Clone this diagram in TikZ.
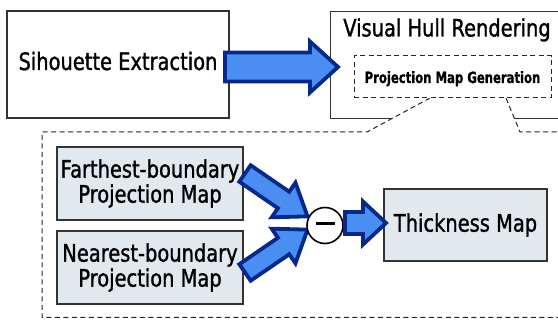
\documentclass[tikz,border=0pt]{standalone}
\usepackage{fontspec}
\setmainfont{DejaVu Sans}[FakeStretch=0.81, FakeBold=1.2,
  BoldFeatures={FakeStretch=0.75, FakeBold=0.8}]
\usetikzlibrary{calc}

\definecolor{arrowfill}{HTML}{4A8EF2}
\definecolor{arrowline}{HTML}{04288C}
\definecolor{mapfill}{HTML}{E1E8EE}
\definecolor{boxline}{HTML}{333333}

% block arrow: #1 tail, #2 tip, #3 shaft half width, #4 head half width, #5 head length
\newcommand\blockarrow[5]{%
  \coordinate (hb) at ($(#2)!#5!(#1)$);
  \draw[barrow] ($(#1)!#3!90:(#2)$) -- ($(hb)!#3!-90:(#1)$) -- ($(hb)!#4!-90:(#1)$)
    -- (#2) -- ($(hb)!#4!90:(#1)$) -- ($(hb)!#3!90:(#1)$) -- ($(#1)!#3!-90:(#2)$) -- cycle;
}

\begin{document}
\begin{tikzpicture}[x=1pt,y=-1pt,
  box/.style={draw=boxline, line width=1.2pt, fill=white, inner sep=0pt},
  mapbox/.style={box, fill=mapfill, align=center},
  dashline/.style={draw=black!85, line width=1pt, dash pattern=on 5pt off 3.5pt},
  lbl/.style={font=\fontsize{24}{25}\selectfont},
  barrow/.style={fill=arrowfill, draw=arrowline, line width=3.8pt, line join=miter}]
\clip (0,0) rectangle (558,320);

% top row
\node[box, lbl, minimum width=222pt, minimum height=107pt, text height=17pt, text depth=6pt]
  (sil) at (118,64.5) {Sihouette Extraction};
\node[box, minimum width=240pt, minimum height=107pt, anchor=north west] (vhr) at (330,11) {};
\node[lbl, anchor=base, inner sep=0pt] (vhrtitle) at (447,36.5) {Visual Hull Rendering};

% dashed call-out region under the projection step
\fill[white] (430,98) -- (367,132) -- (42,132) -- (42,317.5) -- (570,317.5) -- (570,132)
  -- (520,132) -- (506,98) -- cycle;
\draw[dashline] (430,98) -- (367,132) -- (42,132) -- (42,317.5) -- (570,317.5) -- (570,132)
  -- (520,132) -- (506,98);

\node[box, dashline, fill=white, minimum width=197pt, minimum height=42pt,
  font=\fontsize{15.5}{16}\selectfont\bfseries, text height=12pt, text depth=0pt]
  (pmg) at (452.5,77) {Projection Map Generation};

% maps
\node[mapbox, lbl, minimum width=186pt, minimum height=73pt] (far) at (150,183.5)
  {Farthest-boundary\\Projection Map};
\node[mapbox, lbl, minimum width=186pt, minimum height=73pt] (near) at (150,267.5)
  {Nearest-boundary\\Projection Map};
\node[mapbox, lbl, minimum width=163pt, minimum height=72pt] (thick) at (465.5,225)
  {Thickness Map};

% arrows
\coordinate (a0t) at (225,67);
\coordinate (a0h) at (338,67);
\blockarrow{a0t}{a0h}{14.5pt}{25.5pt}{28pt}

\coordinate (a1t) at (245,173.5);
\coordinate (a1h) at (307.5,216.4);
\blockarrow{a1t}{a1h}{10pt}{21pt}{29pt}

\coordinate (a2t) at (245,272.5);
\coordinate (a2h) at (307.5,229.6);
\blockarrow{a2t}{a2h}{10pt}{21pt}{29pt}

% subtraction junction
\node[circle, draw=black, line width=1.6pt, fill=white, minimum size=36pt, inner sep=0pt,
  path picture={\draw[line width=2.4pt] ([xshift=-9.5pt,yshift=2pt]path picture bounding box.center)
    -- ([xshift=9.5pt,yshift=2pt]path picture bounding box.center);}] (minus) at (325,225.5) {};

\coordinate (a3t) at (345,223);
\coordinate (a3h) at (386,223);
\blockarrow{a3t}{a3h}{11pt}{21.5pt}{23pt}
\end{tikzpicture}
\end{document}
